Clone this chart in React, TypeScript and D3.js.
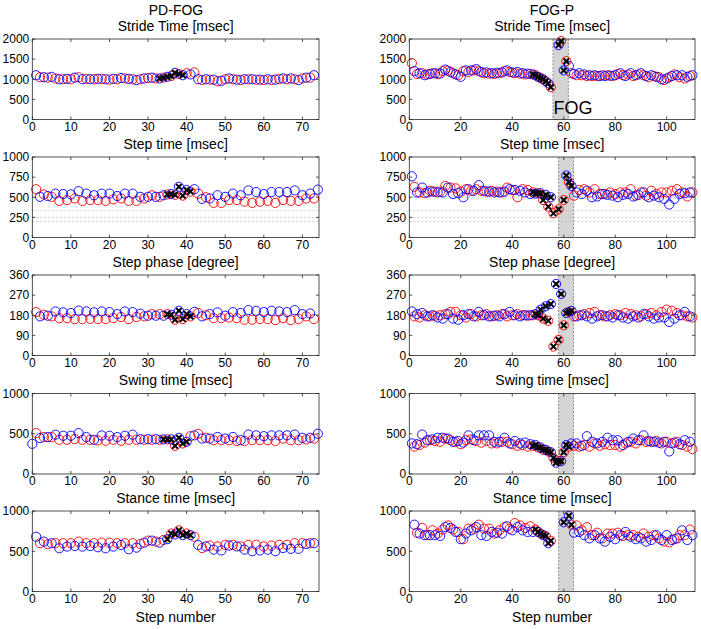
import React from "react";
import * as d3 from "d3";

// ---------------- data ----------------
// Left (PD-FOG) panels; values in step order, step increment 2 from given start
const L_STRIDE_BLUE = [1100,1050,1060,1000,1010,1040,1000,1000,1010,1000,1010,1030,1010,980,1020,1040,1020,1060,1160,1100,1120,1000,1000,990,960,1020,990,1000,1000,990,1000,990,1020,1020,980,1040,1100];
const L_STRIDE_RED = [1050,1040,1020,1000,1000,1050,1010,1000,1010,990,1000,1020,1000,1000,1030,1020,1040,1080,1130,1150,1170,980,990,950,1000,1000,980,1000,990,980,980,1010,1000,1000,1020,1040];
const L_STEP_RED = [600,535,505,455,465,485,455,465,465,455,475,485,455,455,485,525,505,535,530,520,570,545,500,430,430,465,465,445,430,445,455,430,465,455,455,485,485];
const L_STEP_BLUE = [505,515,545,540,535,575,545,525,545,545,515,545,545,505,505,505,525,540,630,590,600,480,485,525,505,545,525,585,565,540,565,565,565,585,525,545,595];
const L_PHASE_RED = [194,182,175,167,167,163,163,164,163,163,167,172,163,172,175,185,185,185,160,163,175,190,180,167,167,170,167,160,160,163,163,158,167,158,163,175,163];
const L_PHASE_BLUE = [175,178,197,193,190,201,197,193,197,194,185,197,194,187,178,178,178,182,200,185,195,175,185,193,178,194,190,203,200,194,200,197,194,203,185,188];
const L_SWING_BLUE = [375,446,458,488,475,475,508,458,425,479,475,458,475,488,433,433,433,430,430,450,400,480,440,440,460,440,460,420,490,480,470,480,480,480,490,450,450,500];
const L_SWING_RED = [508,458,458,425,425,433,425,425,417,413,425,413,425,425,425,425,425,430,350,380,470,500,450,420,420,420,410,410,420,420,420,410,440,420,420,430,440];
const L_STANCE_BLUE = [680,620,600,537,558,566,558,566,550,537,558,578,525,545,607,632,607,650,710,700,700,578,560,520,510,570,560,520,500,510,520,500,540,530,530,590,600];
const L_STANCE_RED = [600,587,600,600,600,620,600,600,607,607,600,600,600,591,632,620,640,720,760,720,680,540,570,560,580,580,560,580,580,560,570,580,580,600,600,600];

// Right (FOG-P) panels
const R_STRIDE_RED = [1400,1130,1150,1120,1150,1130,1200,1210,1150,1100,1200,1180,1220,1200,1150,1140,1130,1150,1200,1180,1150,1140,1120,1130,1100,1030,950,800,null,1950,1450,1150,1100,1100,1080,1080,1080,1100,1100,1080,1130,1100,1120,1080,1120,1100,1050,1080,1050,980,1050,1120,1050,1020,1080];
const R_STRIDE_BLUE = [1200,1150,1100,1130,1150,1140,1240,1180,1120,1060,1220,1220,1250,1180,1170,1150,1160,1170,1220,1170,1180,1150,1140,1120,1060,1000,900,null,1850,1220,1330,1130,1150,1120,1100,1100,1080,1080,1090,1100,1150,1080,1150,1100,1150,1080,1100,1060,1000,1020,1080,1100,1100,1060,1100];
const R_STEP_BLUE = [760,560,620,560,570,560,560,620,540,550,500,600,580,650,580,570,560,560,570,600,590,580,560,540,545,550,530,500,null,null,770,640,560,540,580,500,510,540,530,520,500,530,540,510,530,560,500,520,500,480,410,480,540,550,560];
const R_STEP_RED = [630,560,550,580,570,570,640,620,610,570,600,580,600,580,570,580,570,560,620,590,500,600,590,560,550,465,383,300,350,465,690,520,590,600,560,600,540,540,560,540,560,560,600,520,560,520,580,540,560,560,580,600,560,510,560];
const R_PHASE_BLUE = [197,185,190,175,180,170,165,185,165,160,180,185,175,195,180,175,178,175,185,195,180,175,180,180,185,205,220,230,320,275,190,200,175,180,175,165,175,180,175,170,180,170,165,175,170,185,175,165,170,170,150,165,180,195,175];
const R_PHASE_RED = [175,170,180,175,178,180,185,195,195,180,170,185,175,180,185,175,180,185,175,180,185,180,178,180,180,165,155,40,70,135,195,175,180,185,190,195,180,175,180,185,180,190,185,180,175,185,190,180,195,205,200,190,180,175,170];
const R_SWING_BLUE = [380,370,490,420,430,450,450,440,400,410,390,480,420,480,480,480,400,400,450,380,410,380,390,370,360,330,300,270,140,160,360,380,380,350,470,400,380,400,450,420,420,360,400,440,420,480,410,400,390,400,280,390,370,420,400];
const R_SWING_RED = [340,360,390,420,410,400,440,420,400,370,420,430,410,390,410,380,380,400,400,370,350,360,340,350,330,300,280,200,160,270,340,350,340,360,340,380,350,370,360,360,340,380,400,380,420,400,400,410,380,400,380,400,360,340,310];
const R_STANCE_BLUE = [830,720,700,700,700,690,800,790,740,650,720,760,800,700,690,740,730,720,810,760,800,760,740,740,740,700,600,null,null,860,940,730,740,700,660,700,660,620,680,650,700,740,680,650,660,620,640,700,640,700,640,660,760,640,700];
const R_STANCE_RED = [730,790,700,760,720,770,820,770,740,650,780,780,830,780,780,720,760,800,780,850,820,790,810,770,720,690,630,null,null,null,830,820,760,800,700,730,660,720,720,730,690,700,700,680,720,680,700,660,620,610,650,700,700,770];

// first step index of each series (red, blue) per row, left then right
const LEFT_STARTS = [[2, 1], [1, 2], [1, 2], [1, 0], [2, 1]];
const RIGHT_STARTS = [[1, 2], [2, 1], [2, 1], [2, 1], [3, 2]];

// steps flagged (black x) per row: [from, to] ranges
const LEFT_FLAGS = [[[33, 39]], [[35, 41]], [[35, 41]], [[34, 40]], [[35, 41]]];
const RIGHT_FLAGS = [[[48, 55], [58, 61]], [[48, 63]], [[49, 63]], [[48, 62]], [[49, 55], [60, 63]]];

// FOG episode extent (step numbers) per row for right panels
const FOG_BANDS = [[55.8, 61.8], [58, 63.8], [58, 63.8], [58, 63.8], [58, 63.8]];

const ROW_TITLES = ["Stride Time [msec]", "Step time [msec]", "Step phase [degree]", "Swing time [msec]", "Stance time [msec]"];
const Y_TICKS = [[0, 500, 1000, 1500, 2000], [0, 250, 500, 750, 1000], [0, 90, 180, 270, 360], [0, 500, 1000], [0, 500, 1000]];
const Y_MAX = [2000, 1000, 360, 1000, 1000];
const REF_LINES = [[], [200, 250, 333, 500], [180], [], []];
const X_TICKS_LEFT = [0, 10, 20, 30, 40, 50, 60, 70];
const X_TICKS_RIGHT = [0, 20, 40, 60, 80, 100];
const LEFT_X_MAX = 74.3;
const RIGHT_X_MAX = 111;

const LEFT_DATA = [
  [L_STRIDE_RED, L_STRIDE_BLUE],
  [L_STEP_RED, L_STEP_BLUE],
  [L_PHASE_RED, L_PHASE_BLUE],
  [L_SWING_RED, L_SWING_BLUE],
  [L_STANCE_RED, L_STANCE_BLUE],
];
const RIGHT_DATA = [
  [R_STRIDE_RED, R_STRIDE_BLUE],
  [R_STEP_RED, R_STEP_BLUE],
  [R_PHASE_RED, R_PHASE_BLUE],
  [R_SWING_RED, R_SWING_BLUE],
  [R_STANCE_RED, R_STANCE_BLUE],
];

// ---------------- layout ----------------
const W = 701, H = 629;
const ROW_TOPS = [39, 157, 275, 393.5, 511];
const ROW_H = 80.5;
const FONT = "'Liberation Sans', Arial, Helvetica, sans-serif";
const RED = "#ff0000";
const BLUE = "#0000ff";

type Pt = { s: number; v: number };
const toPts = (start: number, vals: (number | null)[]): Pt[] =>
  vals.map((v, i) => (v == null ? null : { s: start + 2 * i, v })).filter(Boolean) as Pt[];
const flagged = (s: number, ranges: number[][]) => ranges.some(([a, b]) => s >= a && s <= b);

function Panel({ row, side }: { row: number; side: "L" | "R" }) {
  const left = side === "L";
  const x0 = left ? 32.3 : 409.3;
  const x1 = left ? 319 : 695;
  const top = ROW_TOPS[row];
  const bottom = top + ROW_H;
  const x = d3.scaleLinear().domain([0, left ? LEFT_X_MAX : RIGHT_X_MAX]).range([x0, x1]);
  const y = d3.scaleLinear().domain([0, Y_MAX[row]]).range([bottom, top]);
  const [redVals, blueVals] = left ? LEFT_DATA[row] : RIGHT_DATA[row];
  const [rs, bs] = left ? LEFT_STARTS[row] : RIGHT_STARTS[row];
  const red = toPts(rs, redVals);
  const blue = toPts(bs, blueVals);
  const flags = left ? LEFT_FLAGS[row] : RIGHT_FLAGS[row];
  const xt = left ? X_TICKS_LEFT : X_TICKS_RIGHT;
  const band = !left ? FOG_BANDS[row] : null;
  const tl = 3;
  const axisCol = "#262626";
  const all = [...red.map((p) => ({ ...p, c: RED })), ...blue.map((p) => ({ ...p, c: BLUE }))];
  return (
    <g>
      {band && (
        <g>
          <rect x={x(band[0])} y={top} width={x(band[1]) - x(band[0])} height={ROW_H} fill="#d4d4d4" />
          <line x1={x(band[0])} x2={x(band[0])} y1={top} y2={bottom} stroke="#7a7a7a" strokeWidth={0.8} strokeDasharray="2,1.5" />
          <line x1={x(band[1])} x2={x(band[1])} y1={top} y2={bottom} stroke="#7a7a7a" strokeWidth={0.8} strokeDasharray="2,1.5" />
        </g>
      )}
      {REF_LINES[row].map((v) => (
        <line key={v} x1={x0} x2={x1} y1={y(v)} y2={y(v)} stroke="#bdbdbd" strokeWidth={0.8} strokeDasharray="2,2" />
      ))}
      {all.map((p, i) => (
        <circle key={"c" + i} cx={x(p.s)} cy={y(p.v)} r={4.6} fill="none" stroke={p.c} strokeWidth={0.9} />
      ))}
      {all.filter((p) => flagged(p.s, flags)).map((p, i) => (
        <path key={"x" + i} transform={`translate(${x(p.s)},${y(p.v)})`} d="M-2.8,-2.8L2.8,2.8M-2.8,2.8L2.8,-2.8" stroke="#000" strokeWidth={2} />
      ))}
      {band && row === 0 && (
        <text x={x(band[0]) + 0.5} y={113.5} fontSize={18} fontFamily={FONT} fill="#000">FOG</text>
      )}
      <rect x={x0} y={top} width={x1 - x0} height={ROW_H} fill="none" stroke={axisCol} strokeWidth={0.8} />
      {xt.map((t) => (
        <g key={"xt" + t}>
          <line x1={x(t)} x2={x(t)} y1={bottom} y2={bottom - tl} stroke={axisCol} strokeWidth={0.8} />
          <line x1={x(t)} x2={x(t)} y1={top} y2={top + tl} stroke={axisCol} strokeWidth={0.8} />
          <text x={x(t)} y={bottom + 11} fontSize={12} fontFamily={FONT} textAnchor="middle" fill="#000">{t}</text>
        </g>
      ))}
      {Y_TICKS[row].map((t) => (
        <g key={"yt" + t}>
          <line x1={x0} x2={x0 + tl} y1={y(t)} y2={y(t)} stroke={axisCol} strokeWidth={0.8} />
          <line x1={x1} x2={x1 - tl} y1={y(t)} y2={y(t)} stroke={axisCol} strokeWidth={0.8} />
          <text x={x0 - 3} y={y(t) + 4.3} fontSize={12} fontFamily={FONT} textAnchor="end" fill="#000">{t}</text>
        </g>
      ))}
      <text x={(x0 + x1) / 2} y={top - 8.5} fontSize={14} fontFamily={FONT} textAnchor="middle" fill="#000">{ROW_TITLES[row]}</text>
      {row === 4 && (
        <text x={(x0 + x1) / 2} y={622} fontSize={14} fontFamily={FONT} textAnchor="middle" fill="#000">Step number</text>
      )}
    </g>
  );
}

export default function App() {
  return (
    <svg width={W} height={H} style={{ position: "absolute", left: 0, top: 0, background: "#fff" }}>
      <rect width={W} height={H} fill="#fff" />
      <text x={176} y={15} fontSize={14} fontFamily={FONT} textAnchor="middle">PD-FOG</text>
      <text x={552} y={15} fontSize={14} fontFamily={FONT} textAnchor="middle">FOG-P</text>
      {[0, 1, 2, 3, 4].map((r) => (
        <g key={r}>
          <Panel row={r} side="L" />
          <Panel row={r} side="R" />
        </g>
      ))}
    </svg>
  );
}
